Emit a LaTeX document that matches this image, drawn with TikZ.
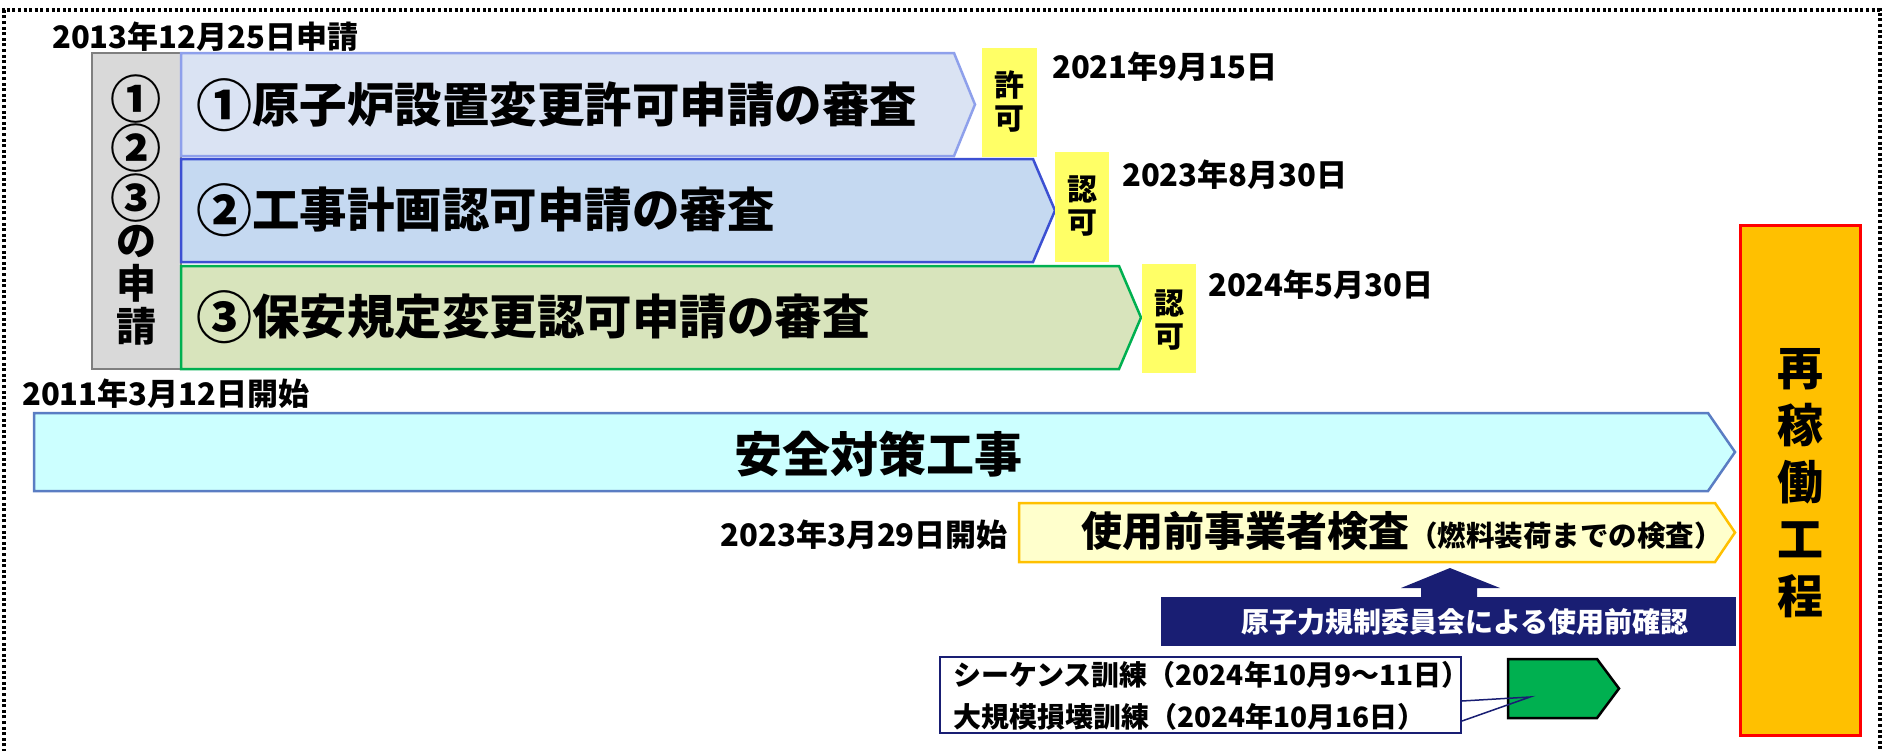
\documentclass[tikz,border=0pt]{standalone}
\usepackage{fontspec}
\setmainfont{Noto Sans CJK JP}
\definecolor{aoneF}{RGB}{218,227,243}
\definecolor{aoneD}{RGB}{142,160,235}
\definecolor{atwoF}{RGB}{197,217,241}
\definecolor{atwoD}{RGB}{60,80,210}
\definecolor{athrF}{RGB}{216,228,188}
\definecolor{grn}{RGB}{0,176,80}
\definecolor{ylw}{RGB}{255,255,102}
\definecolor{gryF}{RGB}{217,217,217}
\definecolor{gryD}{RGB}{127,127,127}
\definecolor{cyF}{RGB}{204,255,255}
\definecolor{cyD}{RGB}{90,125,195}
\definecolor{lyF}{RGB}{255,255,204}
\definecolor{org}{RGB}{255,192,0}
\definecolor{navy}{RGB}{25,30,115}
\newcommand\circnum[1]{\raisebox{-0.12em}{\scalebox{1.28}{#1}}}
\newcommand\circsm[1]{\raisebox{-0.08em}{\scalebox{1.18}{#1}}}
\begin{document}
\begin{tikzpicture}[x=1pt,y=-1pt,
  datelbl/.style={font=\bfseries\fontsize{31}{31}\selectfont, inner sep=0pt},
  bigtxt/.style={font=\bfseries\fontsize{47.5}{47.5}\selectfont, inner sep=0pt},
  yltxt/.style={font=\bfseries\fontsize{30}{33}\selectfont, inner sep=0pt, align=center},
  trtxt/.style={font=\bfseries\fontsize{28}{28}\selectfont, inner sep=0pt},
  pentline/.style={line width=2.5pt, line join=miter}]
\useasboundingbox (0,0) rectangle (1883,750);
% dotted frame
\draw[black, line width=3.2pt, dash pattern=on 3pt off 2.6pt] (4,780) -- (4,10) -- (1880,10) -- (1880,780);

% gray box
\draw[fill=gryF, draw=gryD, line width=2pt] (92,53) rectangle (181,369);
\node[font=\bfseries\fontsize{40}{43}\selectfont, align=center, inner sep=0pt] (apply) at (136,210) {\circnum{①}\\\circnum{②}\\\circnum{③}\\の\\申\\請};

% review arrows
\draw[pentline, fill=aoneF, draw=aoneD] (181,53) -- (954,53) -- (975,104.5) -- (954,156) -- (181,156) -- cycle;
\draw[pentline, fill=atwoF, draw=atwoD] (181,159) -- (1033,159) -- (1055,210.5) -- (1033,262) -- (181,262) -- cycle;
\draw[pentline, fill=athrF, draw=grn] (181,266) -- (1119,266) -- (1141,317.5) -- (1119,369) -- (181,369) -- cycle;
\node[bigtxt, anchor=west] (r1) at (196,105) {\circsm{①}原子炉設置変更許可申請の審査};
\node[bigtxt, anchor=west] (r2) at (196,210) {\circsm{②}工事計画認可申請の審査};
\node[bigtxt, anchor=west] (r3) at (196,317) {\circsm{③}保安規定変更認可申請の審査};

% yellow approvals
\fill[ylw] (982,48) rectangle (1037,157);
\node[yltxt] (k1) at (1009.5,102) {許\\可};
\fill[ylw] (1055,152) rectangle (1109,262);
\node[yltxt] (k2) at (1082,206) {認\\可};
\fill[ylw] (1142,264) rectangle (1196,373);
\node[yltxt] (k3) at (1169,320) {認\\可};

% dates
\node[datelbl, anchor=west] (d0) at (52,37) {2013年12月25日申請};
\node[datelbl, anchor=west] (d1) at (1052,67) {2021年9月15日};
\node[datelbl, anchor=west] (d2) at (1122,175) {2023年8月30日};
\node[datelbl, anchor=west] (d3) at (1208,285) {2024年5月30日};
\node[datelbl, anchor=west] (d4) at (22,394) {2011年3月12日開始};
\node[datelbl, anchor=east] (d5) at (1008,535) {2023年3月29日開始};

% safety works
\draw[pentline, fill=cyF, draw=cyD] (34,413) -- (1708,413) -- (1735,452) -- (1708,491) -- (34,491) -- cycle;
\node[font=\bfseries\fontsize{48}{48}\selectfont, inner sep=0pt] (safe) at (878,454) {安全対策工事};

% pre-use inspection
\draw[pentline, fill=lyF, draw=org] (1019,503) -- (1715,503) -- (1735,532.5) -- (1715,562) -- (1019,562) -- cycle;
\node[inner sep=0pt, anchor=base west] (insp) at (1081,546) {\bfseries\fontsize{41}{41}\selectfont 使用前事業者検査\fontsize{28.5}{28.5}\selectfont （燃料装荷までの検査）};

% NRA confirmation
\fill[navy] (1161,597) rectangle (1736,646);
\fill[navy] (1421,598) -- (1421,588) -- (1401,588) -- (1450,568) -- (1500,588) -- (1477,588) -- (1477,598) -- cycle;
\node[font=\bfseries\fontsize{28}{28}\selectfont, text=white, inner sep=0pt] (nra) at (1465,622) {原子力規制委員会による使用前確認};

% green pentagon and training callout
\draw[pentline, fill=grn, draw=black] (1508,659) -- (1597,659) -- (1619,688.5) -- (1597,718) -- (1508,718) -- cycle;
\coordinate (cpt) at (1530,697);
\node[draw=navy, line width=2pt, fill=white, minimum width=521pt, minimum height=76pt, inner sep=0pt] (train) at (1200.5,695) {};
\node[trtxt, anchor=west] (t1) at (953,675) {シーケンス訓練（2024年10月9～11日）};
\node[trtxt, anchor=west] (t2) at (953,717) {大規模損壊訓練（2024年10月16日）};
\draw[navy, line width=1.5pt] (train.east |- 0,701) -- (cpt) -- (train.east |- 0,721);

% restart
\draw[fill=org, draw=red, line width=3pt] (1740,225) rectangle (1860,735);
\node[font=\bfseries\fontsize{46}{57}\selectfont, align=center, inner sep=0pt] (restart) at (1800,483) {再\\稼\\働\\工\\程};
\end{tikzpicture}
\end{document}
